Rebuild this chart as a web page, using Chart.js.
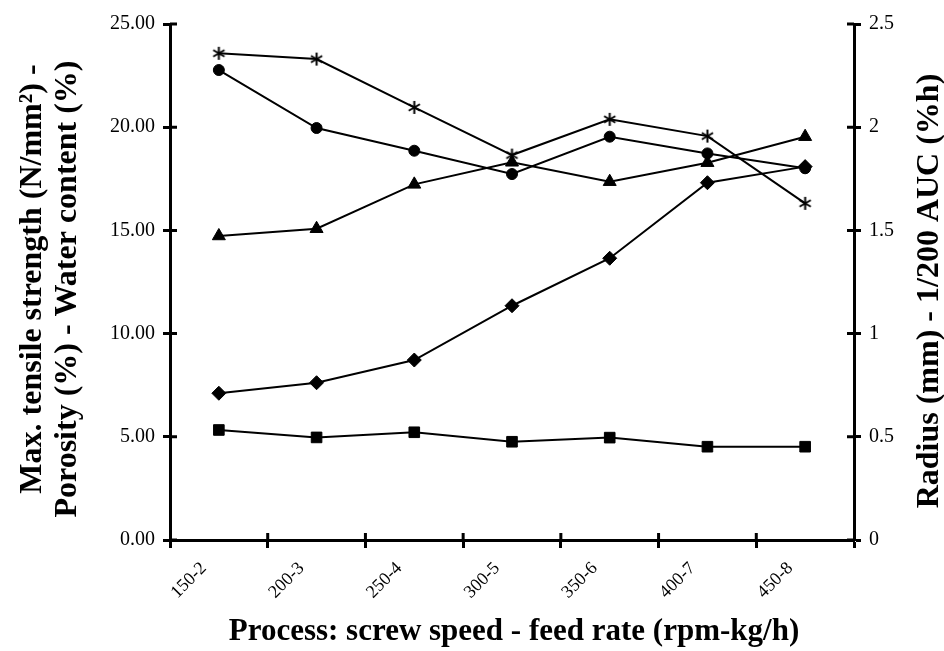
<!DOCTYPE html>
<html>
<head>
<meta charset="utf-8">
<script src="https://cdn.jsdelivr.net/npm/chart.js@4/dist/chart.umd.min.js"></script>
<style>
  html, body { margin: 0; padding: 0; background: #fff; }
  #wrap { width: 944px; height: 651px; }
</style>
</head>
<body>
<div id="wrap"><canvas id="chart"></canvas></div>
<script>
const categories = ["150-2", "200-3", "250-4", "300-5", "350-6", "400-7", "450-8"];
const starValues = [23.58, 23.30, 20.96, 18.65, 20.38, 19.57, 16.31];
const circleValues = [22.77, 19.96, 18.86, 17.73, 19.54, 18.73, 18.01];
const triangleValues = [14.73, 15.08, 17.23, 18.30, 17.36, 18.28, 19.54];
const diamondValues = [7.11, 7.62, 8.72, 11.35, 13.65, 17.31, 18.09];
const radiusValues = [0.533, 0.497, 0.522, 0.476, 0.496, 0.452, 0.452];
const leftTicks = [0, 5, 10, 15, 20, 25];
const rightTicks = [0, 0.5, 1, 1.5, 2, 2.5];

const serif = '"Liberation Serif", "DejaVu Serif", serif';

// six armed asterisk used as marker
function makeAsterisk(size) {
    const c = document.createElement("canvas");
    c.width = size;
    c.height = size;
    const g = c.getContext("2d");
    const r = size / 2 - 1;
    g.strokeStyle = "#000";
    g.lineWidth = 2;
    g.beginPath();
    [90, 30, 150].forEach((deg) => {
        const a = (deg * Math.PI) / 180;
        g.moveTo(size / 2 - r * Math.cos(a), size / 2 - r * Math.sin(a));
        g.lineTo(size / 2 + r * Math.cos(a), size / 2 + r * Math.sin(a));
    });
    g.stroke();
    return c;
}
const asterisk = makeAsterisk(15);

// draws the tick marks on the inner side of each axis line
const innerTicks = {
    id: "innerTicks",
    afterDraw(chart) {
        const ctx = chart.ctx;
        const a = chart.chartArea;
        const x = chart.scales.x;
        ctx.save();
        ctx.strokeStyle = "#000";
        ctx.lineWidth = 3;
        ctx.beginPath();
        chart.scales.y.ticks.forEach((t) => {
            const py = chart.scales.y.getPixelForValue(t.value);
            ctx.moveTo(a.left, py);
            ctx.lineTo(a.left + 7, py);
        });
        chart.scales.y1.ticks.forEach((t) => {
            const py = chart.scales.y1.getPixelForValue(t.value);
            ctx.moveTo(a.right - 7, py);
            ctx.lineTo(a.right, py);
        });
        for (let i = 1; i < categories.length; i++) {
            const px = (x.getPixelForValue(i - 1) + x.getPixelForValue(i)) / 2;
            ctx.moveTo(px, a.bottom - 7);
            ctx.lineTo(px, a.bottom);
        }
        ctx.stroke();
        ctx.restore();
    },
};

// axis titles (the right one reads bottom to top)
const axisTitles = {
    id: "axisTitles",
    afterDraw(chart) {
        const ctx = chart.ctx;
        ctx.save();
        ctx.fillStyle = "#000";
        ctx.textAlign = "center";
        ctx.textBaseline = "middle";
        ctx.font = "bold 31px " + serif;
        ctx.fillText("Process: screw speed - feed rate (rpm-kg/h)", 514, 632);

        ctx.font = "bold 32px " + serif;
        ctx.save();
        ctx.translate(33, 279);
        ctx.rotate(-Math.PI / 2);
        ctx.fillText("Max. tensile strength (N/mm\u00B2) -", 0, 0);
        ctx.restore();
        ctx.save();
        ctx.translate(68, 289);
        ctx.rotate(-Math.PI / 2);
        ctx.fillText("Porosity (%) - Water content (%)", 0, 0);
        ctx.restore();

        ctx.save();
        ctx.translate(930, 291);
        ctx.rotate(-Math.PI / 2);
        ctx.fillText("Radius (mm) - 1/200 AUC (%h)", 0, 0);
        ctx.restore();
        ctx.restore();
    },
};

function lineSet(label, data, style, radius, axis) {
    return {
        label,
        data,
        yAxisID: axis,
        borderColor: "#000",
        backgroundColor: "#000",
        borderWidth: 2,
        pointStyle: style,
        pointRadius: radius,
        pointBorderWidth: 1,
        pointHoverRadius: radius,
        tension: 0,
    };
}

const ctx = document.getElementById("chart").getContext("2d");
const myChart = new Chart(ctx, {
    type: "line",
    data: {
        labels: categories,
        datasets: [
            lineSet("Series *", starValues, asterisk, 7, "y"),
            lineSet("Series circle", circleValues, "circle", 5.5, "y"),
            lineSet("Series triangle", triangleValues, "triangle", 7.5, "y"),
            lineSet("Series diamond", diamondValues, "rectRot", 7, "y"),
            lineSet("Radius (mm)", radiusValues, "rect", 7.5, "y1"),
        ],
    },
    options: {
        responsive: true,
        maintainAspectRatio: false,
        animation: false,
        layout: { padding: { top: 24, left: 0, right: 0, bottom: 0 } },
        plugins: {
            legend: { display: false },
            tooltip: { enabled: false },
        },
        scales: {
            x: {
                offset: true,
                afterFit: (scale) => { scale.height = 111; },
                grid: {
                    offset: true,
                    drawOnChartArea: false,
                    tickLength: 8,
                    tickWidth: 3,
                    tickColor: "#000",
                },
                border: { color: "#000", width: 3 },
                ticks: {
                    color: "#000",
                    font: { family: serif, size: 18 },
                    minRotation: 45,
                    maxRotation: 45,
                    padding: 10,
                    labelOffset: -15,
                },
            },
            y: {
                position: "left",
                min: 0,
                max: 25,
                afterFit: (scale) => { scale.width = 170; },
                afterBuildTicks: (scale) => { scale.ticks = leftTicks.map((v) => ({ value: v })); },
                grid: {
                    drawOnChartArea: false,
                    tickLength: 7,
                    tickWidth: 3,
                    tickColor: "#000",
                },
                border: { color: "#000", width: 3 },
                ticks: {
                    color: "#000",
                    font: { family: serif, size: 20 },
                    padding: 8,
                    callback: (v) => Number(v).toFixed(2),
                },
            },
            y1: {
                position: "right",
                min: 0,
                max: 2.5,
                afterFit: (scale) => { scale.width = 90; },
                afterBuildTicks: (scale) => { scale.ticks = rightTicks.map((v) => ({ value: v })); },
                grid: {
                    drawOnChartArea: false,
                    tickLength: 7,
                    tickWidth: 3,
                    tickColor: "#000",
                },
                border: { color: "#000", width: 3 },
                ticks: {
                    color: "#000",
                    font: { family: serif, size: 20 },
                    padding: 8,
                    callback: (v) => String(v),
                },
            },
        },
    },
    plugins: [innerTicks, axisTitles],
});
</script>
</body>
</html>
